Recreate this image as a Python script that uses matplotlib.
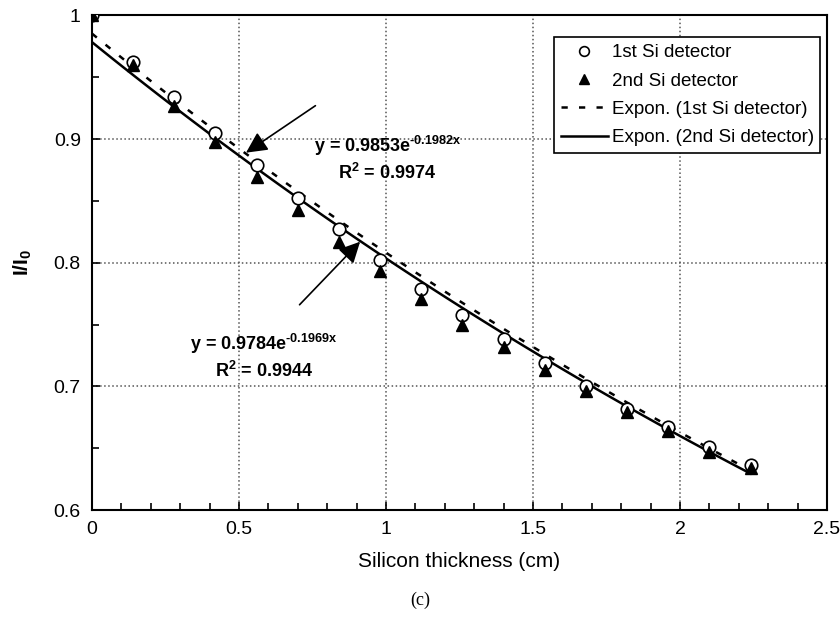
import numpy as np
import matplotlib
matplotlib.use('Agg')
import matplotlib.pyplot as plt
from matplotlib.ticker import MultipleLocator

# === DATA ===
thickness = [0.0, 0.14, 0.28, 0.42, 0.56, 0.70, 0.84, 0.98, 1.12,
             1.26, 1.40, 1.54, 1.68, 1.82, 1.96, 2.10, 2.24]
det1 = [1.000, 0.962, 0.934, 0.905, 0.879, 0.852, 0.827, 0.802, 0.779,
        0.758, 0.738, 0.719, 0.700, 0.682, 0.667, 0.651, 0.636]
det2 = [1.000, 0.960, 0.927, 0.898, 0.869, 0.843, 0.817, 0.793, 0.771,
        0.750, 0.732, 0.713, 0.696, 0.679, 0.664, 0.647, 0.634]

# exponential trend line coefficients (as shown on chart)
fit1_a, fit1_b, fit1_r2 = 0.9853, -0.1982, 0.9974
fit2_a, fit2_b, fit2_r2 = 0.9784, -0.1969, 0.9944

plt.rcParams['font.family'] = ['Liberation Sans', 'DejaVu Sans']
plt.rcParams['mathtext.default'] = 'regular'

fig = plt.figure(figsize=(8.4, 6.17), dpi=100)
ax = fig.add_axes([0.1095, 0.1734, 0.875, 0.8016])

xfit = np.linspace(thickness[0], thickness[-1], 100)
ax.plot(xfit, fit1_a * np.exp(fit1_b * xfit), color='black', lw=1.8,
        linestyle=(0, (2.5, 4.5)), label='Expon. (1st Si detector)', zorder=3)
ax.plot(xfit, fit2_a * np.exp(fit2_b * xfit), color='black', lw=1.8,
        linestyle='-', label='Expon. (2nd Si detector)', zorder=3)
ax.plot(thickness, det1, linestyle='none', marker='o', ms=9, mfc='white',
        mec='black', mew=1.2, label='1st Si detector', zorder=4)
ax.plot(thickness, det2, linestyle='none', marker='^', ms=8, mfc='black',
        mec='black', label='2nd Si detector', zorder=5)

ax.set_xlim(0, 2.5)
ax.set_ylim(0.6, 1.0)
ax.xaxis.set_minor_locator(MultipleLocator(0.1))
ax.yaxis.set_minor_locator(MultipleLocator(0.05))
ax.set_xticks([0, 0.5, 1, 1.5, 2, 2.5])
ax.set_xticklabels(['0', '0.5', '1', '1.5', '2', '2.5'])
ax.set_yticks([0.6, 0.7, 0.8, 0.9, 1.0])
ax.set_yticklabels(['0.6', '0.7', '0.8', '0.9', '1'])
ax.tick_params(which='both', direction='in', labelsize=14, width=1.2)
ax.tick_params(which='major', length=6, pad=8)
ax.tick_params(which='minor', length=5)
ax.grid(True, which='major', linestyle=':', color='#555555', lw=1.1)
for s in ax.spines.values():
    s.set_linewidth(1.5)

ax.set_xlabel('Silicon thickness (cm)', fontsize=15, labelpad=10)
ax.set_ylabel('I/I$_0$', fontsize=15, fontweight='bold', labelpad=14)

# trend line annotations
def eq_text(a, b, r2):
    return 'y = %.4fe$^{\u2010%.4fx}$\nR$^2$ = %.4f' % (a, abs(b), r2)

ax.text(1.005, 0.884, eq_text(fit1_a, fit1_b, fit1_r2),
        ha='center', va='center', fontsize=13, fontweight='bold', linespacing=1.3)
ax.text(0.585, 0.724, eq_text(fit2_a, fit2_b, fit2_r2),
        ha='center', va='center', fontsize=13, fontweight='bold', linespacing=1.3)
arrow = dict(arrowstyle='-|>', mutation_scale=32, color='black', lw=1.2,
             shrinkA=0, shrinkB=0)
ax.annotate('', xy=(0.524, 0.889), xytext=(0.76, 0.927), arrowprops=arrow)
ax.annotate('', xy=(0.912, 0.817), xytext=(0.706, 0.766), arrowprops=arrow)

handles, labels = ax.get_legend_handles_labels()
order = [2, 3, 0, 1]
leg = ax.legend([handles[i] for i in order], [labels[i] for i in order],
                loc='upper right', bbox_to_anchor=(0.996, 0.963), fontsize=13.5,
                frameon=True, fancybox=False, edgecolor='black', framealpha=1,
                labelspacing=0.6, handlelength=2.5, handletextpad=0.2,
                borderpad=0.35, borderaxespad=0.2)
leg.get_frame().set_linewidth(1.2)
leg.legend_handles[0].set_markersize(7)
leg.legend_handles[1].set_markersize(7)

fig.text(0.5, 0.027, '(c)', ha='center', va='center', fontsize=13,
         family='Liberation Serif')

fig.savefig('out.png', dpi=100)
